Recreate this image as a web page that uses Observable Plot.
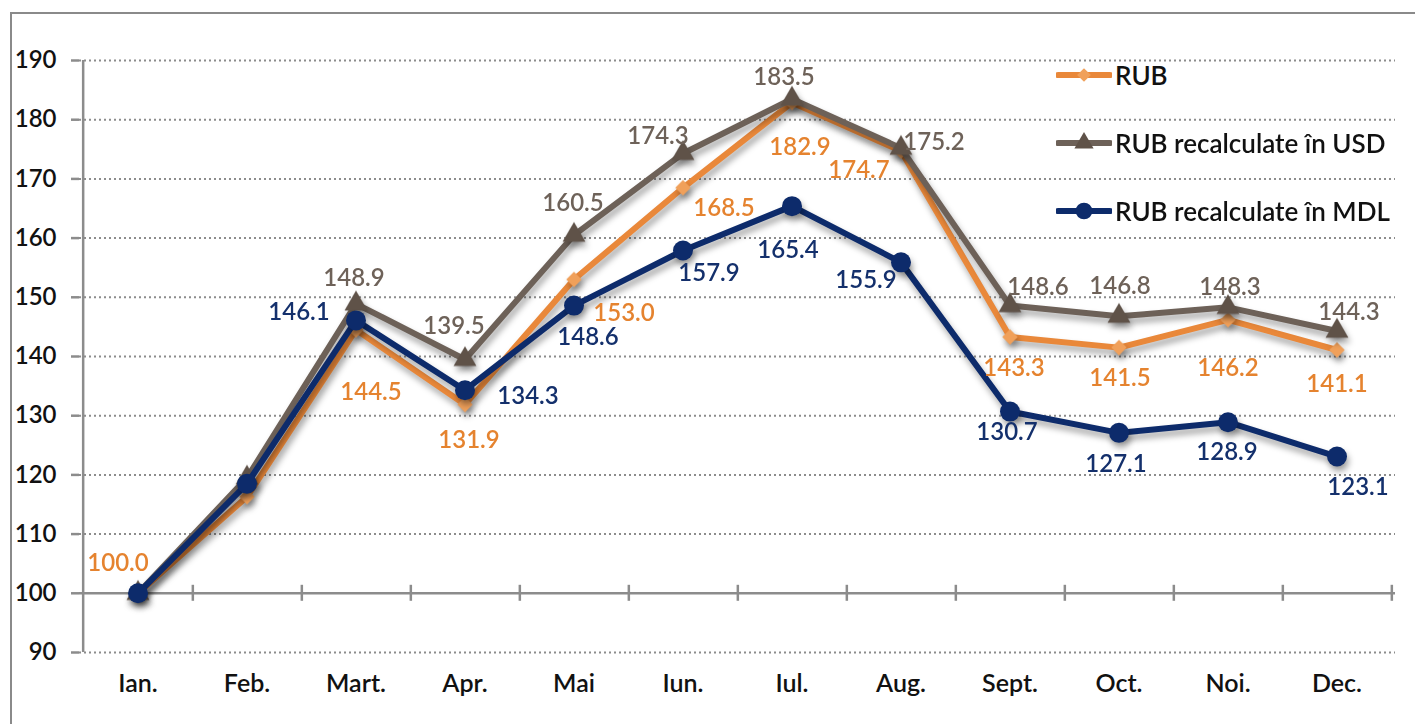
<!DOCTYPE html>
<html>
<head>
<meta charset="utf-8">
<script src="https://cdn.jsdelivr.net/npm/d3@7"></script>
<script src="https://cdn.jsdelivr.net/npm/@observablehq/plot@0.6"></script>
<style>
  body { margin: 0; background: #fff; font-family: Lato, "Open Sans", sans-serif; }
  #wrap { position: relative; width: 1415px; height: 724px; overflow: hidden; }
  #border { position: absolute; left: 10px; top: 12px; width: 1500px; height: 900px;
            border-top: 2px solid #8a8a8a; border-left: 2px solid #8a8a8a; }
  #chart { position: absolute; left: 0; top: 0; }
  #legend { position: absolute; left: 1056px; top: 0; }
  .item { position: absolute; left: 0; height: 30px; display: flex; align-items: center; white-space: nowrap;
          font-size: 26px; font-weight: 600; color: #111; }
  .item svg { margin-right: 3px; }
</style>
</head>
<body>
<div id="wrap">
  <div id="border"></div>
  <div id="chart"></div>
  <div id="legend"></div>
</div>
<script>
// ---- data ----
const months = ["Ian.", "Feb.", "Mart.", "Apr.", "Mai", "Iun.", "Iul.", "Aug.", "Sept.", "Oct.", "Noi.", "Dec."];
const rub    = [100.0, 116.3, 144.5, 131.9, 153.0, 168.5, 182.9, 174.7, 143.3, 141.5, 146.2, 141.1];
const rubUsd = [100.0, 119.5, 148.9, 139.5, 160.5, 174.3, 183.5, 175.2, 148.6, 146.8, 148.3, 144.3];
const rubMdl = [100.0, 118.5, 146.1, 134.3, 148.6, 157.9, 165.4, 155.9, 130.7, 127.1, 128.9, 123.1];
const yTicks = [90, 100, 110, 120, 130, 140, 150, 160, 170, 180, 190];
const seriesNames = ["RUB", "RUB recalculate în USD", "RUB recalculate în MDL"];

// ---- label placement (styling: pixel offsets from each point; null = no label) ----
const rubLabelOffsets = [[-20,-30], null, [15,62], [4,36], [50,34], [41,21], [8,45], [-42,19], [4,31], [1,31], [0,49], [0,34]];
const usdLabelOffsets = [null, null, [-2,-25], [-11,-33], [-1,-32], [-25,-17], [-8,-22], [33,-6], [28,-18], [1,-30], [2,-20], [12,-19]];
const mdlLabelOffsets = [null, null, [-57,-8], [63,6], [14,32], [26,23], [-4,44], [-35,18], [-3,21], [-3,31], [-1,30], [21,31]];

// ---- styles ----
const colors = {
  rub:  {line: "#E9883A", marker: "#F0A05A", text: "#E5832F"},
  usd:  {line: "#6D6158", marker: "#5F5248", text: "#6E6259"},
  mdl:  {line: "#0D2B6B", marker: "#0D2B6B", text: "#14306C"}
};

const W = 1415, H = 724, ml = 79, mr = 20, mt = 60, mb = 72;
const bw = (W - ml - mr) / months.length;
const pxPerUnit = (H - mt - mb) / (yTicks[yTicks.length - 1] - yTicks[0]);
const tickHalf = 8 / pxPerUnit;
const gridGray = "#8c8c8c";

const toRows = (vals) => vals.map((v, i) => ({month: months[i], value: v}));
const rubRows = toRows(rub), usdRows = toRows(rubUsd), mdlRows = toRows(rubMdl);

function labelMarks(rows, offsets, color) {
  return rows.map((r, i) => offsets[i] ? Plot.text([r], {
    x: "month", y: "value", text: d => d.value.toFixed(1),
    dx: offsets[i][0], dy: offsets[i][1],
    fill: color, fontSize: 24, fontWeight: 600, textAnchor: "middle", lineAnchor: "middle"
  }) : null).filter(Boolean);
}

const chart = Plot.plot({
  width: W, height: H,
  marginLeft: ml, marginRight: mr, marginTop: mt, marginBottom: mb,
  style: {fontFamily: "Lato, 'Open Sans', sans-serif", background: "transparent", overflow: "visible"},
  x: {type: "band", domain: months, padding: 0, label: null},
  y: {domain: [yTicks[0], yTicks[yTicks.length - 1]], label: null},
  marks: [
    // dotted gridlines
    Plot.ruleY(yTicks.filter(v => v !== 100), {stroke: gridGray, strokeWidth: 2, strokeDasharray: "2,3"}),
    // x axis line at 100
    Plot.ruleY([100], {stroke: gridGray, strokeWidth: 2.5}),
    // x axis category boundary ticks
    Plot.ruleX(months, {x: d => d, y1: 100 - tickHalf, y2: 100 + tickHalf, dx: bw / 2, stroke: gridGray, strokeWidth: 2.5}),
    // y axis line
    Plot.ruleX([months[0]], {x: d => d, y1: yTicks[0], y2: yTicks[yTicks.length - 1], dx: -bw / 2, stroke: gridGray, strokeWidth: 2.5}),
    Plot.axisY({ticks: yTicks, tickSize: 8, tickPadding: 15, tickFormat: d => String(d), label: null,
                fontSize: 24, fontWeight: 600, fill: "#111", stroke: gridGray, strokeWidth: 2.5}),
    Plot.axisX({tickSize: 0, tickPadding: 22, fontSize: 25, fontWeight: 600, fill: "#111", label: null}),
    // series
    Plot.line(rubRows, {x: "month", y: "value", stroke: colors.rub.line, strokeWidth: 6, strokeLinejoin: "round"}),
    Plot.dot(rubRows, {x: "month", y: "value", symbol: "diamond2", r: 7, fill: colors.rub.marker}),
    Plot.line(usdRows, {x: "month", y: "value", stroke: colors.usd.line, strokeWidth: 6, strokeLinejoin: "round"}),
    Plot.dot(usdRows, {x: "month", y: "value", symbol: "triangle", r: 8.5, fill: colors.usd.marker}),
    Plot.line(mdlRows, {x: "month", y: "value", stroke: colors.mdl.line, strokeWidth: 6, strokeLinejoin: "round"}),
    Plot.dot(mdlRows, {x: "month", y: "value", symbol: "circle", r: 10, fill: colors.mdl.marker}),
    // labels
    ...labelMarks(rubRows, rubLabelOffsets, colors.rub.text),
    ...labelMarks(usdRows, usdLabelOffsets, colors.usd.text),
    ...labelMarks(mdlRows, mdlLabelOffsets, colors.mdl.text)
  ]
});

d3.select(chart).selectAll('g[aria-label="line"], g[aria-label="dot"]')
  .style("filter", "drop-shadow(2px 5px 3px rgba(0,0,0,0.35))");
document.getElementById("chart").appendChild(chart);

// ---- legend (HTML overlay, top-right inside plot) ----
const legendItems = [
  {name: seriesNames[0], c: colors.rub, symbol: d3.symbolDiamond2, size: 120, top: 60},
  {name: seriesNames[1], c: colors.usd, symbol: d3.symbolTriangle, size: 160, top: 128},
  {name: seriesNames[2], c: colors.mdl, symbol: d3.symbolCircle, size: 220, top: 196}
];
const legend = d3.select("#legend");
for (const it of legendItems) {
  const div = legend.append("div").attr("class", "item").style("top", it.top + "px");
  const svg = div.append("svg").attr("width", 56).attr("height", 30);
  svg.append("line").attr("x1", 2).attr("x2", 54).attr("y1", 15).attr("y2", 15)
    .attr("stroke", it.c.line).attr("stroke-width", 6).attr("stroke-linecap", "round");
  svg.append("path").attr("d", d3.symbol(it.symbol, it.size)()).attr("transform", "translate(28,15)")
    .attr("fill", it.c.marker);
  div.append("span").text(it.name);
}
</script>
</body>
</html>
